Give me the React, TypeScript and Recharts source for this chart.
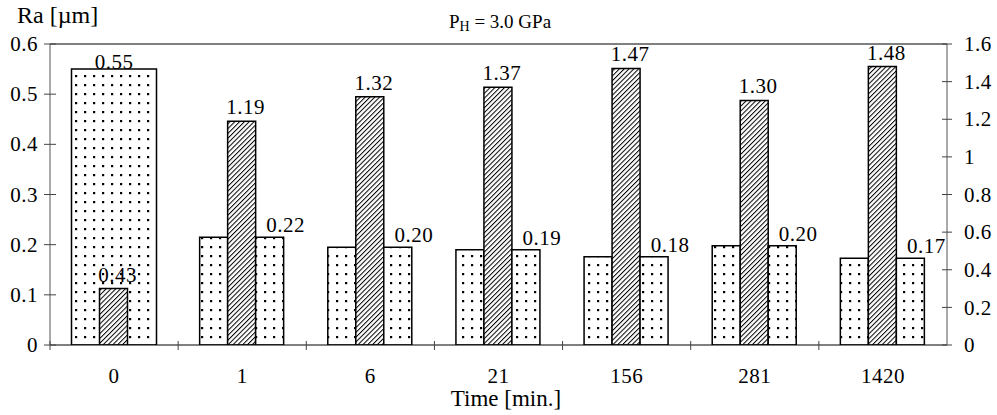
import React from 'react'
import { BarChart, Bar, XAxis, YAxis, ReferenceLine, LabelList } from 'recharts'

const TIMES = ['0', '1', '6', '21', '156', '281', '1420']
// wide dotted bar only at t = 0
const RA_INITIAL = [0.55, null, null, null, null, null, null]
// dotted bars (left axis, Ra)
const RA_AFTER = [null, 0.215, 0.195, 0.19, 0.176, 0.198, 0.173]
const RA_LABELS = ['', '0.22', '0.20', '0.19', '0.18', '0.20', '0.17']
// hatched bars (right axis)
const HATCH = [0.3, 1.19, 1.32, 1.37, 1.47, 1.3, 1.48]
const HATCH_LABELS = ['0.43', '1.19', '1.32', '1.37', '1.47', '1.30', '1.48']
const LEFT_TICKS = [0, 0.1, 0.2, 0.3, 0.4, 0.5, 0.6]
const RIGHT_TICKS = [0, 0.2, 0.4, 0.6, 0.8, 1, 1.2, 1.4, 1.6]

const FONT = '"Times New Roman", Times, serif'
const BAND = (947 - 50) / TIMES.length
const txt = { fontFamily: FONT, fontSize: 21, letterSpacing: 0.5 }

const data = TIMES.map((t, i) => ({
  t,
  wide: RA_INITIAL[i],
  left: RA_AFTER[i],
  hatch: HATCH[i],
  right: RA_AFTER[i],
  hatchLabel: HATCH_LABELS[i],
  raLabel: RA_LABELS[i],
}))

const fmt = (v: number) => (v === 0 ? '0' : String(Math.round(v * 10) / 10))

const LeftTick = (props: any) => {
  const { x, y, payload } = props
  return (
    <g>
      <line x1={x + 6} x2={x + 18} y1={y} y2={y} stroke="#444" />
      <text x={x} y={y} dy="0.34em" textAnchor="end" style={txt} fill="#000">
        {fmt(payload.value)}
      </text>
    </g>
  )
}

const RightTick = (props: any) => {
  const { x, y, payload } = props
  return (
    <g>
      <line x1={x - 22} x2={x - 12} y1={y} y2={y} stroke="#444" />
      <text x={x} y={y} dy="0.34em" textAnchor="start" style={txt} fill="#000">
        {fmt(payload.value)}
      </text>
    </g>
  )
}

const TimeTick = (props: any) => {
  const { x, y, payload } = props
  const left = x - BAND / 2
  return (
    <g>
      <line x1={left} x2={left} y1={y - 4} y2={y + 5} stroke="#444" />
      <text x={x} y={y + 38} textAnchor="middle" style={txt} fill="#000">
        {payload.value}
      </text>
    </g>
  )
}

const makeLabel = (dx: number, dy: number) => (props: any) => {
  const { x, y, width, value } = props
  if (!value) return null
  return (
    <text x={x + width / 2 + dx} y={y - dy} textAnchor="middle" style={txt} fill="#000">
      {value}
    </text>
  )
}

export default function App() {
  return (
    <div style={{ position: 'absolute', left: 0, top: 0, width: 997, height: 415, background: '#fff', fontFamily: FONT }}>
      <div style={{ position: 'absolute', left: 17, top: 1, fontSize: 24, lineHeight: '28px' }}>
        Ra [µm]
      </div>
      <div style={{ position: 'absolute', left: 0, width: 1000, top: 10, textAlign: 'center', fontSize: 19, lineHeight: '24px' }}>
        P<sub style={{ fontSize: 14, verticalAlign: '-3px' }}>H</sub> = 3.0 GPa
      </div>
      <div style={{ position: 'absolute', left: 0, width: 1012, top: 386, textAlign: 'center', fontSize: 23, lineHeight: '26px' }}>
        Time [min.]
      </div>
      <BarChart
        width={997}
        height={415}
        data={data}
        margin={{ top: 44, right: 0, bottom: 0, left: 0 }}
        barCategoryGap={21.5}
        barGap={0}
        style={{ fontFamily: FONT }}
      >
        <defs>
          <pattern id="dots" width="9" height="9" patternUnits="userSpaceOnUse">
            <rect width="9" height="9" fill="#fff" />
            <rect x="3" y="3" width="2.2" height="2.2" fill="#000" />
          </pattern>
          <pattern id="hatch" width="3.4" height="3.4" patternUnits="userSpaceOnUse" patternTransform="rotate(45)">
            <rect width="3.4" height="3.4" fill="#fff" />
            <line x1="0.5" y1="0" x2="0.5" y2="3.4" stroke="#000" strokeWidth="1" />
          </pattern>
        </defs>
        <XAxis
          dataKey="t"
          height={70}
          tick={<TimeTick />}
          tickLine={false}
          tickSize={0}
          tickMargin={0}
          axisLine={{ stroke: '#000' }}
          interval={0}
        />
        <XAxis dataKey="t" xAxisId="wide" hide />
        <YAxis
          yAxisId="l"
          width={50}
          domain={[0, 0.6]}
          ticks={LEFT_TICKS}
          tick={<LeftTick />}
          tickLine={false}
          tickSize={6}
          tickMargin={6}
          axisLine={{ stroke: '#555' }}
          allowDataOverflow
        />
        <YAxis
          yAxisId="r"
          orientation="right"
          width={50}
          domain={[0, 1.6]}
          ticks={RIGHT_TICKS}
          tick={<RightTick />}
          tickLine={false}
          tickSize={6}
          tickMargin={11}
          axisLine={{ stroke: '#555' }}
          allowDataOverflow
        />
        <ReferenceLine yAxisId="l" y={0.6} stroke="#000" />
        <Bar xAxisId="wide" yAxisId="l" dataKey="wide" fill="url(#dots)" stroke="#000" strokeWidth={1.5} isAnimationActive={false}>
          <LabelList dataKey="wide" content={makeLabel(0, 0)} />
        </Bar>
        <Bar yAxisId="l" dataKey="left" fill="url(#dots)" stroke="#000" strokeWidth={1.5} isAnimationActive={false} />
        <Bar yAxisId="r" dataKey="hatch" fill="url(#hatch)" stroke="#000" strokeWidth={1.5} isAnimationActive={false}>
          <LabelList dataKey="hatchLabel" content={makeLabel(4, 7)} />
        </Bar>
        <Bar yAxisId="l" dataKey="right" fill="url(#dots)" stroke="#000" strokeWidth={1.5} isAnimationActive={false}>
          <LabelList dataKey="raLabel" content={makeLabel(16, 5)} />
        </Bar>
      </BarChart>
    </div>
  )
}
